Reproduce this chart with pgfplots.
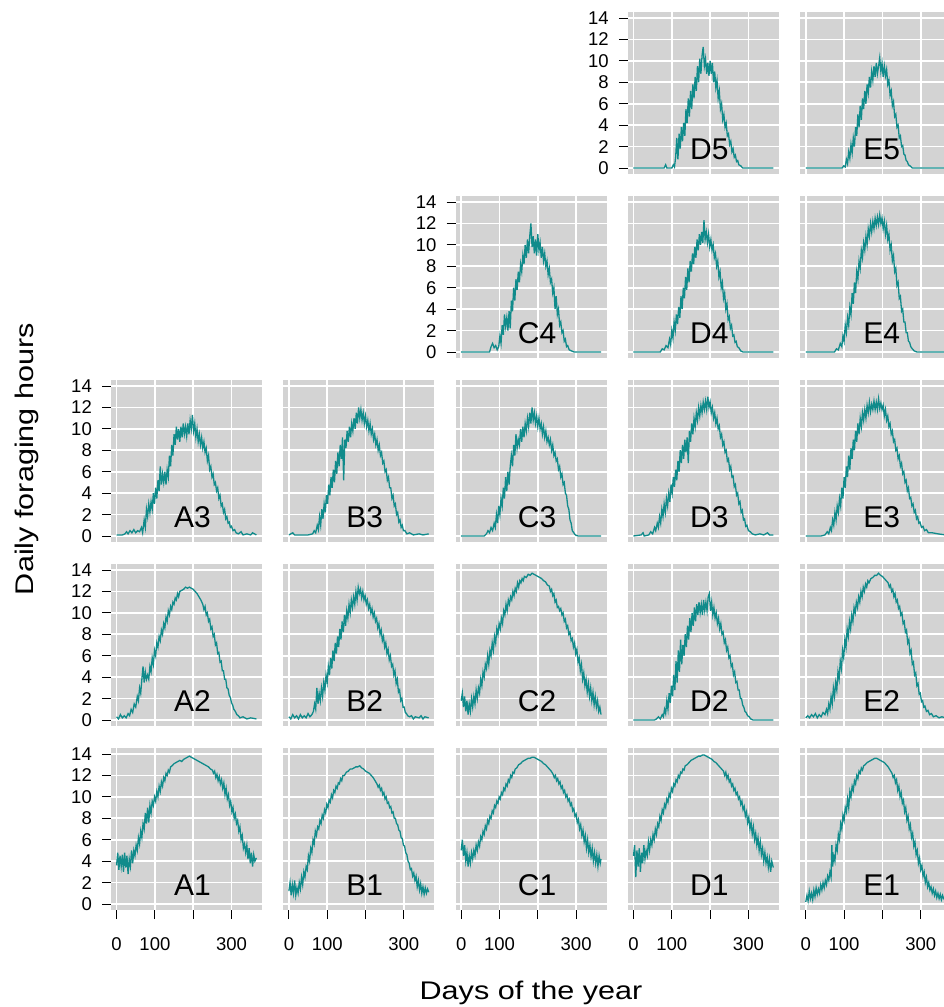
\documentclass[border=0pt]{standalone}
\usepackage{fontspec}
\setmainfont{Liberation Sans}
\newfontfamily\titlefont[FakeStretch=1.2]{Liberation Sans}
\usepackage{pgfplots}
\pgfplotsset{compat=1.18}
\definecolor{bggray}{HTML}{D3D3D3}
\definecolor{tealc}{HTML}{108B8B}
\newcommand\tl{\fontsize{18.5}{22}\selectfont}
\tikzset{
 cur/.style={tealc,line width=1.3pt},
 lab/.style={anchor=base,font=\fontsize{30}{36}\selectfont},
}
\pgfplotsset{
 panel/.style={width=151pt,height=162pt,scale only axis,anchor=south west,
  xmin=-14.6,xmax=379.6,ymin=-0.56,ymax=14.56,
  axis background/.style={fill=bggray},
  axis line style={draw=none},
  xtick={0,100,200,300}, ytick={0,2,4,6,8,10,12,14},
  xticklabels={}, yticklabels={},
  xmajorgrids, ymajorgrids,
  major grid style={white,line width=1.8pt},
  tick pos=left, tick align=outside, major tick length=9pt,
  xtick style={draw=none}, ytick style={draw=none},
  tick label style={font=\tl},
  yticklabel style={inner sep=0pt,xshift=-10pt},
  xticklabel style={inner sep=0pt,yshift=-18pt},
 },
 ylab/.style={yticklabels={\tl 0,\tl 2,\tl 4,\tl 6,\tl 8,\tl 10,\tl 12,\tl 14}, ytick style={draw=black,line width=0.9pt}},
 xlab/.style={xticklabels={\tl 0,\tl 100,,\tl 300}, xtick style={draw=black,line width=0.9pt}},
}
\begin{document}
\begin{tikzpicture}
\useasboundingbox (0,0) rectangle (943pt,1007pt);
% ---------------- Row 5
\begin{axis}[panel,ylab,at={(627.9pt,833pt)}]
\addplot[cur] coordinates {(0,0)(80,0)(84,0.3)(87,0)(100,0)(104,0.3)(107,0.1)(110,1.0)(113,2.8)(116,0.8)(119,3.2)(122,1.8)(125,3.8)(128,2.5)(131,4.2)(134,3.0)(137,5.5)(140,4.2)(143,6.5)(146,4.8)(149,7.2)(152,5.5)(155,7.8)(158,6.5)(161,8.5)(164,7.2)(167,9.5)(170,8.0)(173,10.2)(176,8.8)(179,10.5)(182,11.3)(185,9.5)(188,10.2)(191,8.8)(194,9.8)(197,8.6)(200,10.0)(203,8.8)(206,9.8)(209,8.0)(212,9.0)(215,7.5)(218,8.2)(221,6.5)(224,7.2)(227,5.5)(230,6.0)(233,4.5)(236,5.0)(239,3.8)(242,4.2)(245,3.0)(248,3.2)(251,2.2)(254,2.5)(257,1.5)(260,1.8)(263,1.0)(266,1.2)(269,0.6)(272,0.7)(275,0.3)(280,0.2)(285,0)(365,0)};
\node[lab] at (axis cs:198,0.75) {D5};
\end{axis}
\begin{axis}[panel,at={(800.2pt,833pt)}]
\addplot[cur] coordinates {(0,0)(95,0)(99,0.2)(103,0.1)(106,0.8)(109,0.4)(112,1.5)(115,0.9)(118,2.2)(121,1.4)(124,2.8)(127,2.0)(130,3.8)(133,3.0)(136,5.0)(139,3.8)(142,5.8)(145,4.5)(148,6.5)(151,5.5)(154,7.2)(157,6.0)(160,7.8)(163,7.0)(166,8.5)(169,7.5)(172,9.0)(175,8.2)(178,9.5)(181,8.5)(184,9.8)(187,8.8)(190,9.5)(193,10.3)(196,9.0)(199,9.8)(202,8.5)(205,9.5)(208,8.6)(211,9.2)(214,7.8)(217,8.2)(220,6.8)(223,7.2)(226,5.8)(229,6.2)(232,4.8)(235,5.0)(238,3.8)(241,4.0)(244,2.8)(247,3.0)(250,2.0)(253,2.1)(256,1.3)(259,1.2)(262,0.7)(265,0.6)(268,0.3)(272,0.2)(278,0)(365,0)};
\node[lab] at (axis cs:198,0.75) {E5};
\end{axis}
% ---------------- Row 4
\begin{axis}[panel,ylab,at={(455.6pt,649pt)}]
\addplot[cur] coordinates {(0,0)(74,0)(78,0.5)(82,0.8)(86,0.4)(90,0.6)(94,0.2)(98,0.5)(101,1.5)(104,0.8)(107,2.5)(110,1.6)(113,3.5)(116,2.4)(119,3.2)(122,2.0)(125,3.8)(128,2.2)(131,4.8)(134,3.8)(137,6.0)(140,4.8)(143,6.8)(146,5.8)(149,7.5)(152,6.5)(155,8.2)(158,7.5)(161,9.0)(164,8.2)(167,10.0)(170,8.8)(173,10.5)(176,9.2)(179,10.8)(182,12.0)(185,9.8)(188,10.8)(191,9.2)(194,10.5)(197,9.0)(200,11.0)(203,9.5)(206,10.2)(209,8.8)(212,9.8)(215,8.5)(218,9.2)(221,8.0)(224,8.5)(227,7.2)(230,7.8)(233,6.5)(236,6.8)(239,5.5)(242,6.0)(245,4.0)(248,5.2)(251,3.5)(254,4.0)(257,2.5)(260,2.8)(263,1.8)(266,2.0)(269,1.0)(272,1.2)(275,0.5)(278,0.6)(282,0.2)(288,0.1)(295,0)(365,0)};
\node[lab] at (axis cs:198,0.75) {C4};
\end{axis}
\begin{axis}[panel,at={(627.9pt,649pt)}]
\addplot[cur] coordinates {(0,0)(70,0)(75,0.3)(80,0.2)(85,0.6)(90,0.4)(94,1.2)(97,0.7)(100,2.0)(103,1.3)(106,2.8)(109,2.0)(112,3.5)(115,2.6)(118,4.2)(121,3.2)(124,5.2)(127,4.0)(130,6.0)(133,5.0)(136,7.0)(139,5.8)(142,7.8)(145,6.5)(148,8.5)(151,7.5)(154,9.2)(157,8.2)(160,9.8)(163,8.8)(166,10.5)(169,9.5)(172,11.0)(175,10.0)(178,11.2)(181,10.2)(184,12.3)(187,10.5)(190,11.2)(193,10.2)(196,11.0)(199,9.8)(202,10.5)(205,9.5)(208,10.0)(211,8.8)(214,9.2)(217,8.0)(220,8.5)(223,7.0)(226,7.5)(229,6.0)(232,6.5)(235,5.0)(238,5.5)(241,4.0)(244,4.5)(247,3.0)(250,3.3)(253,2.2)(256,2.5)(259,1.5)(262,1.6)(265,0.9)(268,1.0)(271,0.5)(275,0.4)(280,0.1)(286,0)(365,0)};
\node[lab] at (axis cs:198,0.75) {D4};
\end{axis}
\begin{axis}[panel,at={(800.2pt,649pt)}]
\addplot[cur] coordinates {(0,0)(75,0)(80,0.3)(85,0.2)(90,0.8)(94,0.5)(97,1.5)(100,1.0)(103,2.5)(106,1.8)(109,3.2)(112,2.5)(115,4.2)(118,3.5)(121,5.5)(124,4.5)(127,6.5)(130,5.5)(133,7.5)(136,6.8)(139,8.5)(142,7.8)(145,9.5)(148,8.8)(151,10.2)(154,9.5)(157,10.8)(160,10.0)(163,11.5)(166,10.8)(169,12.0)(172,11.2)(175,12.2)(178,11.5)(181,12.5)(184,11.8)(187,12.6)(190,11.9)(193,12.8)(196,12.0)(199,12.5)(202,11.5)(205,12.2)(208,11.0)(211,11.8)(214,10.5)(217,11.0)(220,9.5)(223,10.0)(226,8.5)(229,9.0)(232,7.5)(235,7.8)(238,6.2)(241,6.5)(244,5.0)(247,5.2)(250,3.8)(253,4.0)(256,2.8)(259,2.8)(262,1.8)(265,1.8)(268,1.0)(271,0.9)(274,0.5)(278,0.3)(283,0.1)(290,0)(365,0)};
\node[lab] at (axis cs:198,0.75) {E4};
\end{axis}
% ---------------- Row 3
\begin{axis}[panel,ylab,at={(111pt,465pt)}]
\addplot[cur] coordinates {(0,0.1)(15,0.1)(22,0.2)(26,0.4)(30,0.2)(35,0.5)(40,0.3)(45,0.6)(50,0.3)(55,0.5)(60,0.4)(65,0.8)(68,0.3)(72,1.5)(75,0.8)(78,2.5)(81,1.8)(84,3.0)(87,2.2)(90,3.2)(93,2.5)(96,4.0)(99,3.0)(102,4.5)(105,3.5)(108,5.2)(111,4.2)(114,6.5)(117,4.8)(120,5.8)(123,5.0)(126,6.0)(129,4.8)(132,6.2)(135,5.5)(138,7.5)(141,6.5)(144,8.5)(147,7.5)(150,9.5)(153,8.5)(156,10.2)(159,9.0)(162,10.0)(165,8.8)(168,10.2)(171,9.2)(174,10.5)(177,9.5)(180,10.2)(183,9.3)(186,10.5)(189,9.5)(192,10.8)(195,10.0)(198,11.3)(201,9.8)(204,10.5)(207,9.2)(210,10.0)(213,8.8)(216,9.5)(219,8.5)(222,9.2)(225,8.2)(228,8.8)(231,7.8)(234,8.2)(237,7.0)(240,7.5)(243,6.2)(246,6.5)(249,5.5)(252,5.8)(255,4.8)(258,5.0)(261,4.2)(264,4.5)(267,3.5)(270,3.8)(273,2.8)(276,3.0)(279,2.2)(282,2.5)(285,1.6)(288,1.8)(291,1.2)(294,1.3)(297,0.8)(300,0.9)(304,0.5)(308,0.6)(312,0.3)(318,0.2)(325,0.4)(330,0.1)(340,0.2)(350,0.1)(355,0.3)(365,0.1)};
\node[lab] at (axis cs:198,0.75) {A3};
\end{axis}
\begin{axis}[panel,at={(283.3pt,465pt)}]
\addplot[cur] coordinates {(0,0.1)(10,0.3)(15,0.1)(30,0.1)(50,0.1)(62,0.2)(66,0.5)(70,0.3)(74,1.0)(77,0.6)(80,1.8)(83,1.0)(86,2.5)(89,1.6)(92,3.0)(95,2.2)(98,3.8)(101,3.0)(104,4.8)(107,3.8)(110,5.5)(113,4.5)(116,6.2)(119,5.0)(122,7.0)(125,5.8)(128,7.8)(131,6.5)(134,8.5)(137,7.2)(140,9.2)(143,5.2)(146,9.0)(149,8.2)(152,9.8)(155,8.8)(158,10.2)(161,9.2)(164,10.5)(167,9.8)(170,11.0)(173,10.0)(176,11.5)(179,10.5)(182,12.0)(185,11.0)(188,11.8)(191,10.8)(194,11.5)(197,10.5)(200,11.2)(203,10.2)(206,10.8)(209,9.8)(212,10.5)(215,9.5)(218,10.0)(221,9.0)(224,9.5)(227,8.5)(230,9.0)(233,8.0)(236,8.5)(239,7.5)(242,7.8)(245,6.8)(248,7.0)(251,6.0)(254,6.2)(257,5.2)(260,5.5)(263,4.5)(266,4.5)(269,3.5)(272,3.8)(275,2.8)(278,3.0)(281,2.0)(284,2.2)(287,1.3)(290,1.5)(293,0.8)(296,1.0)(299,0.5)(303,0.5)(308,0.2)(315,0.3)(325,0.1)(340,0.2)(350,0.1)(365,0.2)};
\node[lab] at (axis cs:198,0.75) {B3};
\end{axis}
\begin{axis}[panel,at={(455.6pt,465pt)}]
\addplot[cur] coordinates {(0,0)(60,0)(66,0.2)(70,0.5)(74,0.3)(78,0.8)(82,0.5)(86,1.2)(89,0.8)(92,2.0)(95,1.2)(98,2.8)(101,2.0)(104,3.5)(107,2.8)(110,4.5)(113,3.5)(116,5.5)(119,4.2)(122,6.0)(125,4.8)(128,6.5)(131,7.5)(134,6.5)(137,8.5)(140,7.5)(143,9.5)(146,8.2)(149,9.0)(152,8.5)(155,10.0)(158,8.8)(161,10.2)(164,9.2)(167,10.5)(170,9.8)(173,11.0)(176,10.2)(179,11.5)(182,10.5)(185,12.0)(188,10.8)(191,11.5)(194,10.5)(197,11.2)(200,10.2)(203,11.0)(206,10.0)(209,10.5)(212,9.5)(215,10.2)(218,9.2)(221,9.8)(224,8.8)(227,9.2)(230,8.5)(233,9.0)(236,8.0)(239,8.5)(242,7.5)(245,7.8)(248,7.0)(251,7.2)(254,6.2)(257,6.5)(260,5.5)(263,5.8)(266,4.8)(269,5.0)(272,4.0)(275,3.8)(278,2.8)(281,2.5)(284,1.5)(287,1.2)(290,0.5)(294,0.3)(298,0.1)(305,0)(365,0)};
\node[lab] at (axis cs:198,0.75) {C3};
\end{axis}
\begin{axis}[panel,at={(627.9pt,465pt)}]
\addplot[cur] coordinates {(0,0)(20,0.1)(25,0.3)(28,0)(40,0.1)(45,0.4)(50,0.2)(55,0.8)(58,0.5)(62,1.2)(65,0.8)(68,1.8)(71,1.2)(74,2.5)(77,1.8)(80,3.0)(83,2.2)(86,3.5)(89,2.8)(92,4.0)(95,3.2)(98,4.8)(101,4.0)(104,5.5)(107,4.6)(110,6.2)(113,5.2)(116,7.0)(119,6.0)(122,8.0)(125,6.8)(128,8.5)(131,7.2)(134,9.0)(137,7.8)(140,9.2)(143,6.8)(146,9.8)(149,8.8)(152,10.5)(155,9.5)(158,11.0)(161,10.2)(164,11.5)(167,10.8)(170,12.0)(173,11.2)(176,12.2)(179,11.5)(182,12.5)(185,11.8)(188,12.6)(191,11.8)(194,13.0)(197,12.0)(200,12.5)(203,11.5)(206,12.0)(209,11.0)(212,11.5)(215,10.5)(218,11.0)(221,10.0)(224,10.3)(227,9.2)(230,9.5)(233,8.5)(236,8.8)(239,7.8)(242,8.0)(245,7.0)(248,7.2)(251,6.2)(254,6.5)(257,5.5)(260,5.6)(263,4.6)(266,4.8)(269,3.8)(272,4.0)(275,3.0)(278,3.2)(281,2.2)(284,2.4)(287,1.5)(290,1.6)(293,0.9)(296,1.0)(300,0.5)(305,0.4)(310,0.2)(318,0.1)(330,0.2)(340,0.1)(350,0.3)(355,0.1)(365,0.1)};
\node[lab] at (axis cs:198,0.75) {D3};
\end{axis}
\begin{axis}[panel,at={(800.2pt,465pt)}]
\addplot[cur] coordinates {(0,0)(40,0)(50,0.1)(56,0.4)(60,0.2)(64,0.8)(67,0.5)(70,1.5)(73,1.0)(76,2.2)(79,1.5)(82,2.8)(85,2.2)(88,3.5)(91,2.8)(94,4.5)(97,3.5)(100,5.5)(103,4.5)(106,6.5)(109,5.5)(112,7.5)(115,6.2)(118,8.2)(121,7.2)(124,9.0)(127,8.0)(130,9.8)(133,8.8)(136,10.5)(139,9.5)(142,11.0)(145,10.2)(148,11.5)(151,10.8)(154,11.8)(157,11.0)(160,12.2)(163,11.5)(166,12.5)(169,11.6)(172,12.3)(175,11.8)(178,12.6)(181,11.8)(184,12.5)(187,11.8)(190,12.8)(193,11.9)(196,12.4)(199,11.8)(202,12.2)(205,11.2)(208,11.8)(211,10.8)(214,11.2)(217,10.2)(220,10.5)(223,9.5)(226,9.8)(229,8.8)(232,9.0)(235,8.0)(238,8.2)(241,7.2)(244,7.5)(247,6.5)(250,6.8)(253,5.8)(256,6.0)(259,5.0)(262,5.2)(265,4.2)(268,4.5)(271,3.5)(274,3.6)(277,2.8)(280,3.0)(283,2.2)(286,2.4)(289,1.6)(292,1.8)(295,1.2)(298,1.3)(302,0.8)(306,0.9)(310,0.5)(315,0.6)(320,0.3)(330,0.3)(345,0.2)(365,0.1)};
\node[lab] at (axis cs:198,0.75) {E3};
\end{axis}
% ---------------- Row 2
\begin{axis}[panel,ylab,at={(111pt,281pt)}]
\addplot[cur] coordinates {(0,0.3)(5,0.1)(10,0.5)(15,0.2)(20,0.4)(25,0.2)(30,0.6)(34,0.4)(38,1.0)(42,0.7)(46,1.5)(50,1.2)(54,2.2)(57,1.8)(60,3.0)(63,2.5)(66,3.8)(69,5.0)(72,3.5)(75,4.5)(78,3.8)(81,4.2)(84,3.8)(87,5.0)(90,4.5)(93,5.8)(96,5.2)(99,6.5)(102,6.0)(105,7.2)(108,6.8)(111,7.8)(114,7.4)(117,8.4)(120,8.0)(123,9.0)(126,8.6)(129,9.6)(132,9.2)(135,10.2)(138,9.8)(141,10.6)(144,10.3)(147,11.0)(150,10.8)(153,11.4)(156,11.2)(159,11.8)(162,11.5)(165,12.0)(170,12.1)(175,12.2)(180,12.4)(185,12.3)(190,12.4)(195,12.3)(200,12.2)(205,12.0)(210,11.8)(215,11.5)(220,11.2)(225,10.8)(228,10.3)(231,10.6)(234,9.8)(237,10.0)(240,9.2)(243,9.4)(246,8.5)(249,8.7)(252,7.8)(255,8.0)(258,7.0)(261,7.2)(264,6.2)(267,6.3)(270,5.4)(273,5.5)(276,4.6)(279,4.6)(282,3.8)(285,3.8)(288,3.0)(291,2.9)(294,2.3)(297,2.1)(300,1.6)(303,1.4)(306,1.0)(310,0.8)(314,0.5)(318,0.4)(322,0.2)(330,0.3)(340,0.1)(350,0.2)(365,0.1)};
\node[lab] at (axis cs:198,0.75) {A2};
\end{axis}
\begin{axis}[panel,at={(283.3pt,281pt)}]
\addplot[cur] coordinates {(0,0.3)(5,0.1)(10,0.5)(15,0.2)(20,0.4)(25,0.1)(30,0.5)(35,0.2)(40,0.4)(45,0.2)(50,0.6)(55,0.3)(60,0.5)(64,0.8)(67,1.5)(70,1.0)(73,3.0)(76,1.5)(79,2.5)(82,1.8)(85,3.0)(88,2.2)(91,3.5)(94,2.8)(97,4.2)(100,3.5)(103,5.0)(106,4.2)(109,5.8)(112,4.8)(115,6.5)(118,5.5)(121,7.2)(124,6.2)(127,7.8)(130,6.8)(133,8.5)(136,7.5)(139,9.2)(142,8.2)(145,9.8)(148,8.8)(151,10.2)(154,9.5)(157,10.8)(160,10.0)(163,11.2)(166,10.5)(169,11.5)(172,10.8)(175,12.0)(178,11.2)(181,12.4)(184,11.8)(187,12.2)(190,11.4)(193,12.0)(196,11.2)(199,11.6)(202,10.8)(205,11.2)(208,10.4)(211,10.8)(214,10.0)(217,10.4)(220,9.6)(223,10.0)(226,9.2)(229,9.5)(232,8.6)(235,9.0)(238,8.0)(241,8.4)(244,7.4)(247,7.8)(250,6.8)(253,7.2)(256,6.2)(259,6.6)(262,5.6)(265,6.0)(268,5.0)(271,5.2)(274,4.2)(277,4.6)(280,3.4)(283,3.8)(286,2.6)(289,2.8)(292,1.8)(295,2.0)(298,1.2)(301,1.2)(304,0.7)(307,0.6)(310,0.4)(315,0.3)(320,0.4)(325,0.1)(330,0.3)(340,0.2)(345,0.4)(350,0.1)(355,0.3)(365,0.2)};
\node[lab] at (axis cs:198,0.75) {B2};
\end{axis}
\begin{axis}[panel,at={(455.6pt,281pt)}]
\addplot[cur] coordinates {(0,1.8)(3,2.5)(6,1.2)(9,2.2)(12,0.8)(15,1.8)(18,0.5)(21,1.5)(24,0.8)(27,2.0)(30,1.2)(33,2.2)(36,1.5)(39,2.8)(42,2.0)(45,3.0)(48,2.5)(51,3.8)(54,3.2)(57,4.5)(60,4.0)(63,5.2)(66,4.8)(69,6.0)(72,5.2)(75,6.5)(78,6.0)(81,7.2)(84,6.5)(87,7.8)(90,7.2)(93,8.5)(96,8.0)(99,9.0)(102,8.5)(105,9.5)(108,9.0)(111,10.2)(114,9.8)(117,10.8)(120,10.2)(123,11.2)(126,10.8)(129,11.5)(132,11.2)(135,12.0)(138,11.6)(141,12.3)(144,12.0)(147,12.8)(150,12.4)(153,13.0)(156,12.8)(159,13.2)(162,13.0)(165,13.4)(170,13.3)(175,13.6)(180,13.5)(185,13.7)(190,13.6)(195,13.5)(200,13.4)(205,13.3)(210,13.2)(215,13.0)(220,12.9)(225,12.6)(230,12.5)(233,12.0)(236,12.2)(239,11.6)(242,11.8)(245,11.0)(248,11.2)(251,10.5)(254,10.6)(257,10.2)(260,10.4)(263,9.8)(266,10.0)(269,9.2)(272,9.4)(275,8.6)(278,8.8)(281,8.0)(284,8.2)(287,7.4)(290,7.6)(293,6.8)(296,7.2)(299,6.2)(302,6.6)(305,5.4)(308,5.8)(311,4.6)(314,5.2)(317,3.8)(320,4.4)(323,3.2)(326,3.8)(329,2.6)(332,3.4)(335,2.2)(338,3.0)(341,1.8)(344,2.6)(347,1.4)(350,2.2)(353,1.2)(356,1.8)(359,0.8)(362,1.2)(365,0.5)};
\node[lab] at (axis cs:198,0.75) {C2};
\end{axis}
\begin{axis}[panel,at={(627.9pt,281pt)}]
\addplot[cur] coordinates {(0,0)(55,0)(60,0.1)(65,0.3)(70,0.1)(75,0.5)(78,0.3)(81,1.0)(84,0.6)(87,1.8)(90,1.0)(93,2.5)(96,1.6)(99,3.2)(102,2.2)(105,4.2)(108,2.8)(111,5.5)(114,3.5)(117,6.5)(120,4.5)(123,7.5)(126,5.2)(129,7.0)(132,6.0)(135,8.0)(138,6.8)(141,8.8)(144,7.5)(147,9.5)(150,8.2)(153,10.0)(156,8.8)(159,10.5)(162,9.2)(165,10.8)(168,9.8)(171,11.0)(174,10.0)(177,10.8)(180,9.8)(183,11.2)(186,10.2)(189,11.0)(192,10.2)(195,11.5)(198,11.8)(201,10.2)(204,11.0)(207,9.8)(210,10.5)(213,9.5)(216,10.0)(219,9.0)(222,9.5)(225,8.5)(228,9.0)(231,8.0)(234,8.2)(237,7.2)(240,7.5)(243,6.5)(246,6.8)(249,5.8)(252,6.0)(255,5.0)(258,5.2)(261,4.2)(264,4.5)(267,3.5)(270,3.6)(273,2.8)(276,2.8)(279,2.0)(282,2.0)(285,1.4)(288,1.2)(291,0.8)(294,0.7)(298,0.4)(302,0.3)(306,0.1)(312,0)(365,0)};
\node[lab] at (axis cs:198,0.75) {D2};
\end{axis}
\begin{axis}[panel,at={(800.2pt,281pt)}]
\addplot[cur] coordinates {(0,0.2)(5,0.4)(10,0.2)(15,0.5)(20,0.3)(25,0.6)(30,0.2)(35,0.5)(40,0.3)(45,0.7)(50,0.5)(54,1.0)(57,0.6)(60,1.5)(63,1.0)(66,2.2)(69,1.5)(72,3.0)(75,2.2)(78,3.5)(81,2.8)(84,4.5)(87,3.8)(90,5.5)(93,4.8)(96,6.5)(99,5.8)(102,7.5)(105,6.8)(108,8.5)(111,7.8)(114,9.2)(117,8.5)(120,9.8)(123,9.2)(126,10.5)(129,10.0)(132,11.0)(135,10.5)(138,11.5)(141,11.0)(144,12.0)(147,11.5)(150,12.4)(153,12.0)(156,12.7)(159,12.4)(162,13.0)(165,12.8)(170,13.2)(175,13.3)(180,13.5)(185,13.5)(190,13.7)(195,13.5)(200,13.4)(205,13.2)(210,13.0)(215,12.8)(218,12.4)(221,12.6)(224,12.0)(227,12.2)(230,11.5)(233,11.8)(236,11.0)(239,11.2)(242,10.4)(245,10.6)(248,9.8)(251,10.0)(254,9.0)(257,9.2)(260,8.2)(263,8.4)(266,7.2)(269,7.5)(272,6.2)(275,6.5)(278,5.2)(281,5.4)(284,4.2)(287,4.4)(290,3.2)(293,3.4)(296,2.4)(299,2.5)(302,1.7)(305,1.8)(308,1.2)(311,1.3)(315,0.8)(319,0.9)(323,0.5)(328,0.6)(333,0.3)(340,0.4)(348,0.2)(355,0.3)(365,0.2)};
\node[lab] at (axis cs:198,0.75) {E2};
\end{axis}
% ---------------- Row 1
\begin{axis}[panel,ylab,xlab,at={(111pt,97pt)}]
\addplot[cur] coordinates {(0,3.6)(3,4.8)(6,3.2)(9,4.5)(12,3.5)(15,4.6)(18,3.0)(21,4.8)(24,3.4)(27,4.5)(30,2.8)(33,4.2)(36,3.5)(39,5.0)(42,3.8)(45,5.0)(48,4.5)(51,5.5)(54,5.0)(57,6.2)(60,5.6)(63,6.8)(66,6.2)(69,7.5)(72,7.0)(75,8.5)(78,7.5)(81,9.0)(84,7.6)(87,9.2)(90,8.5)(93,9.6)(96,9.2)(99,10.0)(102,9.6)(105,10.5)(108,10.0)(111,11.0)(114,10.5)(117,11.4)(120,11.0)(123,11.8)(126,11.5)(129,12.2)(132,12.0)(135,12.5)(138,12.3)(141,12.8)(145,12.9)(150,13.1)(155,13.2)(160,13.3)(165,13.4)(170,13.3)(175,13.5)(180,13.6)(185,13.7)(190,13.8)(195,13.7)(200,13.6)(205,13.5)(210,13.4)(215,13.3)(220,13.2)(225,13.1)(230,13.0)(235,12.9)(240,12.8)(245,12.6)(250,12.5)(253,12.2)(256,12.4)(259,11.8)(262,12.1)(265,11.5)(268,11.9)(271,11.2)(274,11.6)(277,10.8)(280,11.3)(283,10.2)(286,10.8)(289,9.8)(292,10.2)(295,9.2)(298,9.6)(301,8.6)(304,9.0)(307,8.0)(310,8.4)(313,7.5)(316,7.8)(319,6.8)(322,7.2)(325,6.0)(328,6.4)(331,5.2)(334,5.6)(337,4.8)(340,5.5)(343,4.2)(346,5.2)(349,3.8)(352,4.8)(355,3.5)(358,4.6)(361,4.0)(365,4.3)};
\node[lab] at (axis cs:198,0.75) {A1};
\end{axis}
\begin{axis}[panel,xlab,at={(283.3pt,97pt)}]
\addplot[cur] coordinates {(0,1.2)(3,2.0)(6,0.8)(9,1.8)(12,1.0)(15,2.2)(18,0.8)(21,1.5)(24,1.0)(27,2.0)(30,1.4)(33,2.5)(36,1.8)(39,3.0)(42,2.5)(45,3.5)(48,3.2)(51,4.5)(54,4.0)(57,5.2)(60,4.8)(63,6.0)(66,5.6)(69,6.8)(72,6.4)(75,7.2)(78,7.0)(81,7.8)(84,7.5)(87,8.3)(90,8.0)(93,8.8)(96,8.5)(99,9.3)(102,9.0)(105,9.7)(108,9.5)(111,10.2)(114,9.9)(117,10.6)(120,10.4)(123,11.0)(126,10.8)(129,11.3)(132,11.2)(135,11.7)(138,11.5)(141,12.0)(145,12.0)(150,12.3)(155,12.4)(160,12.6)(165,12.6)(170,12.7)(175,12.8)(180,12.8)(185,12.9)(190,12.7)(195,12.6)(200,12.4)(205,12.3)(210,12.2)(215,12.0)(220,11.8)(225,11.5)(230,11.2)(233,10.9)(236,11.1)(239,10.6)(242,10.8)(245,10.2)(248,10.4)(251,9.8)(254,10.0)(257,9.4)(260,9.5)(263,9.0)(266,9.1)(269,8.5)(272,8.6)(275,8.0)(278,8.0)(281,7.5)(284,7.4)(287,6.9)(290,6.8)(293,6.2)(296,6.1)(299,5.5)(302,5.4)(305,4.8)(308,4.6)(311,4.0)(314,3.8)(317,3.2)(320,3.3)(323,2.6)(326,2.9)(329,2.2)(332,2.6)(335,1.6)(338,2.2)(341,1.3)(344,1.9)(347,1.0)(350,1.6)(353,0.9)(356,1.5)(359,1.0)(362,1.4)(365,1.1)};
\node[lab] at (axis cs:198,0.75) {B1};
\end{axis}
\begin{axis}[panel,xlab,at={(455.6pt,97pt)}]
\addplot[cur] coordinates {(0,5.0)(3,6.0)(6,4.5)(9,5.5)(12,4.0)(15,4.8)(18,3.5)(21,4.5)(24,3.8)(27,4.8)(30,4.2)(33,5.0)(36,4.5)(39,5.5)(42,5.0)(45,5.8)(48,5.4)(51,6.3)(54,6.0)(57,6.8)(60,6.5)(63,7.3)(66,7.0)(69,7.8)(72,7.5)(75,8.2)(78,8.0)(81,8.7)(84,8.5)(87,9.2)(90,9.0)(93,9.6)(96,9.4)(99,10.0)(102,9.8)(105,10.4)(108,10.2)(111,10.8)(114,10.6)(117,11.2)(120,11.0)(123,11.6)(126,11.4)(129,12.0)(132,11.8)(135,12.3)(138,12.2)(141,12.6)(145,12.7)(150,13.0)(155,13.1)(160,13.3)(165,13.4)(170,13.5)(175,13.6)(180,13.6)(185,13.7)(190,13.7)(195,13.6)(200,13.5)(205,13.4)(210,13.3)(215,13.1)(220,13.0)(225,12.8)(230,12.6)(235,12.4)(240,12.1)(243,11.8)(246,12.0)(249,11.5)(252,11.7)(255,11.2)(258,11.4)(261,10.8)(264,11.0)(267,10.4)(270,10.6)(273,10.0)(276,10.2)(279,9.6)(282,9.8)(285,9.2)(288,9.4)(291,8.7)(294,8.9)(297,8.2)(300,8.4)(303,7.6)(306,7.9)(309,7.0)(312,7.4)(315,6.4)(318,6.9)(321,5.8)(324,6.4)(327,5.2)(330,6.0)(333,4.8)(336,5.5)(339,4.4)(342,5.2)(345,4.0)(348,4.8)(351,3.8)(354,4.6)(357,3.5)(360,4.5)(363,3.8)(365,4.2)};
\node[lab] at (axis cs:198,0.75) {C1};
\end{axis}
\begin{axis}[panel,xlab,at={(627.9pt,97pt)}]
\addplot[cur] coordinates {(0,4.5)(3,5.5)(6,2.5)(9,5.0)(12,3.5)(15,5.2)(18,3.0)(21,4.8)(24,3.8)(27,5.5)(30,4.2)(33,5.0)(36,4.5)(39,5.8)(42,5.0)(45,6.0)(48,5.5)(51,6.5)(54,6.0)(57,7.0)(60,6.5)(63,7.5)(66,7.2)(69,8.2)(72,7.8)(75,8.8)(78,8.5)(81,9.3)(84,9.0)(87,9.8)(90,9.5)(93,10.3)(96,10.0)(99,10.8)(102,10.5)(105,11.2)(108,11.0)(111,11.6)(114,11.4)(117,12.0)(120,11.8)(123,12.3)(126,12.2)(129,12.6)(132,12.5)(135,12.9)(140,13.0)(145,13.2)(150,13.4)(155,13.5)(160,13.6)(165,13.7)(170,13.8)(175,13.8)(180,13.9)(185,13.9)(190,13.8)(195,13.7)(200,13.6)(205,13.5)(210,13.3)(215,13.2)(220,13.0)(225,12.8)(230,12.6)(235,12.4)(238,12.0)(241,12.3)(244,11.7)(247,12.0)(250,11.4)(253,11.6)(256,11.0)(259,11.2)(262,10.6)(265,10.8)(268,10.2)(271,10.4)(274,9.8)(277,10.0)(280,9.3)(283,9.6)(286,8.8)(289,9.1)(292,8.2)(295,8.6)(298,7.6)(301,8.1)(304,7.0)(307,7.6)(310,6.5)(313,7.2)(316,6.0)(319,6.6)(322,5.5)(325,6.2)(328,5.0)(331,5.8)(334,4.6)(337,5.2)(340,4.0)(343,4.8)(346,3.8)(349,4.4)(352,3.4)(355,4.2)(358,3.0)(361,4.0)(365,3.4)};
\node[lab] at (axis cs:198,0.75) {D1};
\end{axis}
\begin{axis}[panel,xlab,at={(800.2pt,97pt)}]
\addplot[cur] coordinates {(0,0.2)(3,0.8)(6,0.3)(9,1.2)(12,0.5)(15,1.0)(18,0.4)(21,1.3)(24,0.7)(27,1.5)(30,0.9)(33,1.4)(36,1.0)(39,1.8)(42,1.3)(45,2.0)(48,1.5)(51,2.2)(54,1.8)(57,2.6)(60,2.2)(63,3.0)(66,2.5)(68,5.5)(70,3.5)(73,4.5)(76,4.0)(79,5.5)(82,5.0)(85,6.5)(88,6.0)(91,7.5)(94,7.0)(97,8.3)(100,7.8)(103,9.0)(106,8.6)(109,9.8)(112,9.0)(115,10.5)(118,10.0)(121,11.0)(124,10.6)(127,11.5)(130,11.2)(133,12.0)(136,11.7)(139,12.4)(142,12.2)(145,12.7)(148,12.5)(151,12.9)(155,13.0)(160,13.2)(165,13.3)(170,13.4)(175,13.5)(180,13.6)(185,13.6)(190,13.5)(195,13.4)(200,13.3)(205,13.2)(210,13.0)(215,12.8)(220,12.5)(225,12.2)(228,11.8)(231,12.0)(234,11.3)(237,11.6)(240,10.6)(243,11.0)(246,10.0)(249,10.4)(252,9.4)(255,9.7)(258,8.6)(261,9.0)(264,7.8)(267,8.2)(270,7.0)(273,7.4)(276,6.2)(279,6.6)(282,5.4)(285,5.8)(288,4.6)(291,5.0)(294,3.8)(297,4.3)(300,3.2)(303,3.6)(306,2.6)(309,3.0)(312,2.0)(315,2.5)(318,1.6)(321,2.0)(324,1.3)(327,1.6)(330,1.0)(333,1.4)(336,0.8)(339,1.2)(342,0.6)(345,1.0)(348,0.5)(351,0.9)(354,0.4)(357,0.8)(360,0.5)(365,0.6)};
\node[lab] at (axis cs:198,0.75) {E1};
\end{axis}
% ---------------- Axis titles
\node[anchor=base,font=\fontsize{25.5}{31}\titlefont] at (531pt,7pt) {Days of the year};
\node[anchor=base,rotate=90,font=\fontsize{25.5}{31}\titlefont] at (33pt,548pt) {Daily foraging hours};
\end{tikzpicture}
\end{document}
